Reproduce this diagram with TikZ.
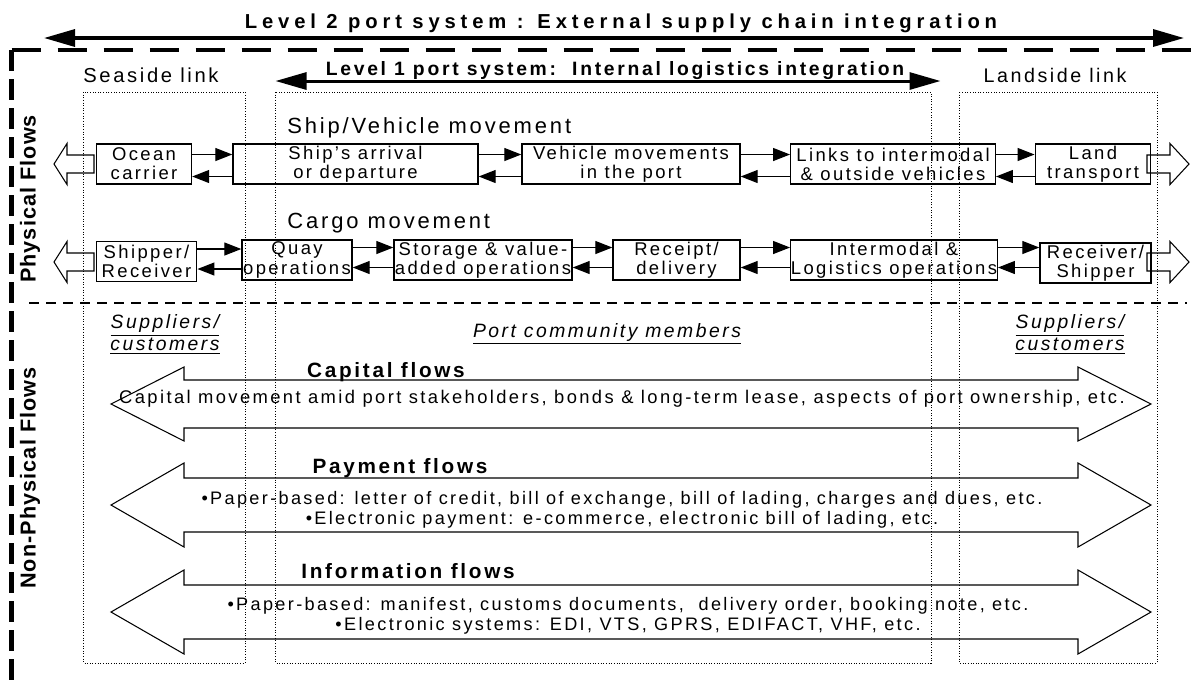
\documentclass[tikz,border=0pt]{standalone}
\usepackage{fontspec}
\setmainfont{Liberation Sans}[LetterSpace=13]
\newfontfamily\levelfont{Liberation Sans}[LetterSpace=24]
\newfontfamily\levelonefont{Liberation Sans}[LetterSpace=14]
\newfontfamily\sidefont{Liberation Sans}[LetterSpace=5]
\usetikzlibrary{arrows.meta, positioning, calc}

\begin{document}
\begin{tikzpicture}[every node/.style={inner sep=0pt},
  portbox/.style={draw, line width=0.8pt, align=center, minimum height=0.8cm,
                  font=\fontsize{10.5}{10.9}\selectfont},
  link/.style={-{Triangle[length=0.34cm, width=0.26cm]}, line width=0.7pt},
  bigtip/.style={{Triangle[length=0.62cm, width=0.34cm]}-{Triangle[length=0.62cm, width=0.34cm]}},
  zone/.style={densely dotted, line width=0.5pt},
  flowtitle/.style={font=\bfseries\fontsize{11.8}{14}\selectfont},
  flowtext/.style={align=center, font=\fontsize{10.3}{11.4}\selectfont},
  member/.style={align=center, font=\itshape\fontsize{11}{12.5}\selectfont},
  sidelabel/.style={rotate=90, font=\sidefont\bfseries\fontsize{12.3}{14}\selectfont}]
  \useasboundingbox (0,0) rectangle (24,-13.64);

  % level 2 and outer frame
  \node[anchor=base, font=\levelfont\bfseries\fontsize{11.5}{13}\selectfont] (lvltwo) at (12.42,-0.56)
    {Level 2 port system : External supply chain integration};
  \coordinate (lvltwow) at (0.88,-0.76);
  \coordinate (lvltwoe) at (23.68,-0.76);
  \draw[bigtip, line width=1.9pt] (lvltwow) -- (lvltwoe);
  \coordinate (corner) at (0.23,-1.0);
  \draw[line width=0.08cm, dash pattern=on 0.58cm off 0.34cm] (corner) -- (24,-1.0);
  \draw[line width=0.08cm, dash pattern=on 0.42cm off 0.16cm] (corner) -- (0.23,-13.64);

  % level 1 and the three zones
  \node[anchor=base, font=\levelonefont\bfseries\fontsize{11}{13}\selectfont] (lvlone) at (12.3,-1.5)
    {Level 1 port system:\ \ Internal logistics integration};
  \coordinate (lvlonew) at (5.51,-1.62);
  \coordinate (lvlonee) at (18.81,-1.62);
  \draw[bigtip, line width=1.7pt] (lvlonew) -- (lvlonee);
  \node[anchor=base, font=\fontsize{11.5}{13}\selectfont] (seaside) at (3.02,-1.64) {Seaside link};
  \node[anchor=base, font=\fontsize{11.2}{13}\selectfont] (landside) at (21.1,-1.64) {Landside link};
  \draw[zone] (1.67,-1.84) rectangle (4.9,-13.26);
  \draw[zone] (5.51,-1.84) rectangle (18.62,-13.26);
  \draw[zone] (19.18,-1.84) rectangle (23.14,-13.26);

  \node[sidelabel] (phys) at (0.6,-3.98) {Physical Flows};
  \node[sidelabel] (nonphys) at (0.6,-9.56) {Non-Physical Flows};

  % ship / vehicle movement
  \node[anchor=base west, font=\fontsize{12.5}{14}\selectfont] (shipmove) at (5.74,-2.66) {Ship/Vehicle movement};
  \node[portbox, minimum width=1.9cm] (ocean) at (2.88,-3.28) {Ocean\\carrier};
  \node[portbox, minimum width=4.9cm] (ship) at (7.11,-3.28) {Ship's arrival\\or departure};
  \node[portbox, minimum width=4.36cm] (vehicle) at (12.62,-3.28) {Vehicle movements\\in the port};
  \node[portbox, minimum width=4.09cm] (links) at (17.86,-3.28) {Links to intermodal\\\& outside vehicles};
  \node[portbox, minimum width=2.31cm] (land) at (21.86,-3.28) {Land\\transport};

  \draw[link] ($(ocean.east)+(0,0.19)$) -- ($(ocean.east -| ship.west)+(0,0.19)$);
  \draw[link] ($(ocean.east -| ship.west)+(0,-0.25)$) -- ($(ocean.east)+(0,-0.25)$);
  \draw[link] ($(ship.east)+(0,0.19)$) -- ($(ship.east -| vehicle.west)+(0,0.19)$);
  \draw[link] ($(ship.east -| vehicle.west)+(0,-0.25)$) -- ($(ship.east)+(0,-0.25)$);
  \draw[link] ($(vehicle.east)+(0,0.19)$) -- ($(vehicle.east -| links.west)+(0,0.19)$);
  \draw[link] ($(vehicle.east -| links.west)+(0,-0.25)$) -- ($(vehicle.east)+(0,-0.25)$);
  \draw[link] ($(links.east)+(0,0.19)$) -- ($(links.east -| land.west)+(0,0.19)$);
  \draw[link] ($(links.east -| land.west)+(0,-0.25)$) -- ($(links.east)+(0,-0.25)$);

  \draw[line width=0.6pt] (1.08,-3.28) -- (1.34,-2.87) -- (1.34,-3.1) -- (1.88,-3.1)
    -- (1.88,-3.46) -- (1.34,-3.46) -- (1.34,-3.69) -- cycle;
  \draw[line width=0.6pt] (23.78,-3.28) -- (23.4,-2.87) -- (23.4,-3.1) -- (22.94,-3.1)
    -- (22.94,-3.46) -- (23.4,-3.46) -- (23.4,-3.69) -- cycle;

  % cargo movement
  \node[anchor=base west, font=\fontsize{12.5}{14}\selectfont] (cargomove) at (5.74,-4.56) {Cargo movement};
  \node[portbox, minimum width=2.01cm] (shipper) at (2.93,-5.23) {Shipper/\\Receiver};
  \node[portbox, minimum width=2.2cm] (quay) at (5.94,-5.2) {Quay\\operations};
  \node[portbox, minimum width=3.56cm] (storage) at (9.66,-5.2) {Storage \& value-\\added operations};
  \node[portbox, minimum width=2.54cm] (receipt) at (13.53,-5.2) {Receipt/\\delivery};
  \node[portbox, minimum width=4.13cm] (intermodal) at (17.88,-5.2) {Intermodal \&\\Logistics operations};
  \node[portbox, minimum width=2.22cm] (receiver) at (21.91,-5.26) {Receiver/\\Shipper};

  \draw[link] ($(shipper.east)+(0,0.25)$) -- ($(shipper.east -| quay.west)+(0,0.25)$);
  \draw[link] ($(shipper.east -| quay.west)+(0,-0.15)$) -- ($(shipper.east)+(0,-0.15)$);
  \draw[link] ($(quay.east)+(0,0.25)$) -- ($(quay.east -| storage.west)+(0,0.25)$);
  \draw[link] ($(quay.east -| storage.west)+(0,-0.15)$) -- ($(quay.east)+(0,-0.15)$);
  \draw[link] ($(storage.east)+(0,0.25)$) -- ($(storage.east -| receipt.west)+(0,0.25)$);
  \draw[link] ($(storage.east -| receipt.west)+(0,-0.15)$) -- ($(storage.east)+(0,-0.15)$);
  \draw[link] ($(receipt.east)+(0,0.25)$) -- ($(receipt.east -| intermodal.west)+(0,0.25)$);
  \draw[link] ($(receipt.east -| intermodal.west)+(0,-0.15)$) -- ($(receipt.east)+(0,-0.15)$);
  \draw[link] ($(intermodal.east)+(0,0.25)$) -- ($(intermodal.east -| receiver.west)+(0,0.25)$);
  \draw[link] ($(intermodal.east -| receiver.west)+(0,-0.15)$) -- ($(intermodal.east)+(0,-0.15)$);

  \draw[line width=0.6pt] (1.08,-5.24) -- (1.34,-4.83) -- (1.34,-5.06) -- (1.88,-5.06)
    -- (1.88,-5.42) -- (1.34,-5.42) -- (1.34,-5.65) -- cycle;
  \draw[line width=0.6pt] (23.78,-5.24) -- (23.4,-4.83) -- (23.4,-5.06) -- (22.94,-5.06)
    -- (22.94,-5.42) -- (23.4,-5.42) -- (23.4,-5.65) -- cycle;

  % non-physical flows
  \draw[line width=0.04cm, dash pattern=on 0.19cm off 0.15cm] (0.58,-6.06) -- (23.74,-6.06);
  \node[member] (suppleft) at (3.3,-6.69) {\underline{Suppliers/}\\\underline{customers}};
  \node[member, anchor=base] (community) at (12.14,-6.74) {\underline{Port community members}};
  \node[member] (suppright) at (21.4,-6.69) {\underline{Suppliers/}\\\underline{customers}};

  \draw[line width=0.6pt] (2.22,-8.08) -- (3.68,-7.34) -- (3.68,-7.6) -- (21.56,-7.6) -- (21.56,-7.34)
    -- (23.02,-8.08) -- (21.56,-8.82) -- (21.56,-8.56) -- (3.68,-8.56) -- (3.68,-8.82) -- cycle;
  \node[flowtitle, anchor=base] (capt) at (7.72,-7.54) {Capital flows};
  \node[anchor=base, font=\fontsize{10.45}{12}\selectfont] (capd) at (12.44,-8.06)
    {Capital movement amid port stakeholders, bonds \& long-term lease, aspects of port ownership, etc.};

  \draw[line width=0.6pt] (2.22,-10.1) -- (3.68,-9.26) -- (3.68,-9.56) -- (21.56,-9.56) -- (21.56,-9.26)
    -- (23.02,-10.1) -- (21.56,-10.94) -- (21.56,-10.64) -- (3.68,-10.64) -- (3.68,-10.94) -- cycle;
  \node[flowtitle, anchor=base] (payt) at (8.0,-9.46) {Payment flows};
  \node[flowtext] (payd) at (12.44,-10.2)
    {•Paper-based: letter of credit, bill of exchange, bill of lading, charges and dues, etc.\\
     •Electronic payment: e-commerce, electronic bill of lading, etc.};

  \draw[line width=0.6pt] (2.22,-12.24) -- (3.68,-11.4) -- (3.68,-11.7) -- (21.56,-11.7) -- (21.56,-11.4)
    -- (23.02,-12.24) -- (21.56,-13.08) -- (21.56,-12.78) -- (3.68,-12.78) -- (3.68,-13.08) -- cycle;
  \node[flowtitle, anchor=base] (inft) at (8.16,-11.56) {Information flows};
  \node[flowtext] (infd) at (12.56,-12.32)
    {•Paper-based: manifest, customs documents,\ \ delivery order, booking note, etc.\\
     •Electronic systems: EDI, VTS, GPRS, EDIFACT, VHF, etc.};
\end{tikzpicture}
\end{document}
